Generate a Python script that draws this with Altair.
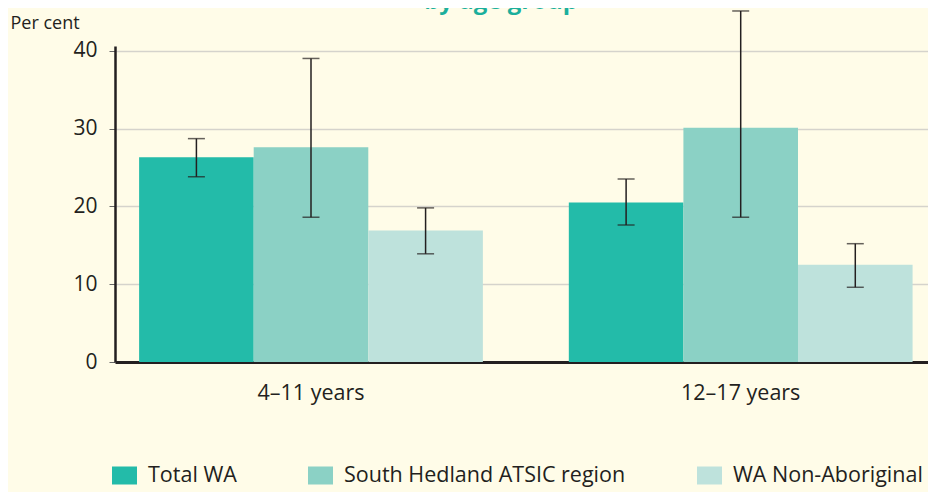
import altair as alt
import pandas as pd

groups = ["4–11 years", "12–17 years"]
series = ["Total WA", "South Hedland ATSIC region", "WA Non-Aboriginal"]
colors = ["#23BBA9", "#8BD1C5", "#BEE2DC"]

values_4_11 = [26.3, 27.6, 16.9]
lower_4_11 = [23.8, 18.6, 13.9]
upper_4_11 = [28.7, 39.0, 19.8]

values_12_17 = [20.5, 30.1, 12.5]
lower_12_17 = [17.6, 18.6, 9.6]
upper_12_17 = [23.5, 45.1, 15.2]

y_ticks = [0, 10, 20, 30, 40]
y_title = "Per cent"
chart_title = "by age group"

rows = []
for g, vals, lo, hi in [
    (groups[0], values_4_11, lower_4_11, upper_4_11),
    (groups[1], values_12_17, lower_12_17, upper_12_17),
]:
    for s, v, l, h in zip(series, vals, lo, hi):
        rows.append({"group": g, "series": s, "value": v, "lo": l, "hi": h})
df = pd.DataFrame(rows)

FONT = "Open Sans"
TXT = "#231F20"

x_enc = alt.X(
    "group:N",
    sort=groups,
    scale=alt.Scale(paddingInner=0.2, paddingOuter=0.046, align=0.61),
    axis=alt.Axis(
        title=None,
        labelAngle=0,
        ticks=False,
        labelPadding=20,
        labelFontSize=21.5,
        domainColor=TXT,
        domainWidth=3,
        grid=False,
    ),
)
xoff = alt.XOffset("series:N", sort=series, scale=alt.Scale(paddingInner=0, paddingOuter=0))

y_scale = alt.Scale(domain=[0, 40.6], nice=False)

bars = alt.Chart(df).mark_bar(opacity=1).encode(
    x=x_enc,
    xOffset=xoff,
    y=alt.Y(
        "value:Q",
        scale=y_scale,
        axis=alt.Axis(
            values=y_ticks,
            grid=True,
            gridColor="#D5D3CC",
            gridWidth=1.5,
            domainColor=TXT,
            domainWidth=2.5,
            tickColor="#666666",
            tickSize=6,
            tickWidth=1,
            labelPadding=12,
            labelFontSize=21,
            title=y_title,
            titleAngle=0,
            titleX=-105,
            titleY=-18,
            titleAlign="left",
            titleBaseline="alphabetic",
            titleFontWeight="normal",
            titleFont=FONT,
            titleFontSize=18,
            titleColor=TXT,
        ),
    ),
    color=alt.Color(
        "series:N",
        sort=series,
        scale=alt.Scale(domain=series, range=colors),
        legend=alt.Legend(
            orient="none",
            legendX=-3,
            legendY=417,
            direction="horizontal",
            columns=3,
            title=None,
            symbolType="M-1,-0.72H1V0.72H-1Z",
            symbolSize=625,
            symbolStrokeWidth=0,
            symbolOpacity=1,
            labelFont=FONT,
            labelFontSize=21.5,
            labelColor=TXT,
            labelOffset=11,
            labelLimit=500,
            columnPadding=71,
        ),
    ),
)

rules = alt.Chart(df).mark_rule(color=TXT, strokeWidth=1.5).encode(
    x=alt.X("group:N", sort=groups),
    xOffset=alt.XOffset("series:N", sort=series),
    y=alt.Y("lo:Q", scale=y_scale),
    y2="hi:Q",
)
cap_hi = alt.Chart(df).mark_tick(color=TXT, orient="horizontal", size=17, thickness=1.5).encode(
    x=alt.X("group:N", sort=groups),
    xOffset=alt.XOffset("series:N", sort=series),
    y=alt.Y("hi:Q", scale=y_scale),
)
cap_lo = alt.Chart(df).mark_tick(color=TXT, orient="horizontal", size=17, thickness=1.5).encode(
    x=alt.X("group:N", sort=groups),
    xOffset=alt.XOffset("series:N", sort=series),
    y=alt.Y("lo:Q", scale=y_scale),
)

title_mark = alt.Chart(pd.DataFrame({"t": [chart_title]})).mark_text(
    font=FONT, fontSize=24, fontWeight="bold", color="#1BAF9C",
    align="right", baseline="alphabetic",
).encode(text="t:N", x=alt.value(463), y=alt.value(-37))

chart = (
    alt.layer(bars, rules, cap_hi, cap_lo, title_mark)
    .properties(
        width=813,
        height=316,
        autosize=alt.AutoSizeParams(type="none"),
        padding={"left": 107, "top": 38, "right": 0, "bottom": 130},
    )
    .configure(background="#FFFCE8", font=FONT)
    .configure_view(stroke=None)
    .configure_axis(labelFont=FONT, labelColor=TXT)
)

chart.save("out.html", embed_options={"renderer": "svg", "actions": False})
